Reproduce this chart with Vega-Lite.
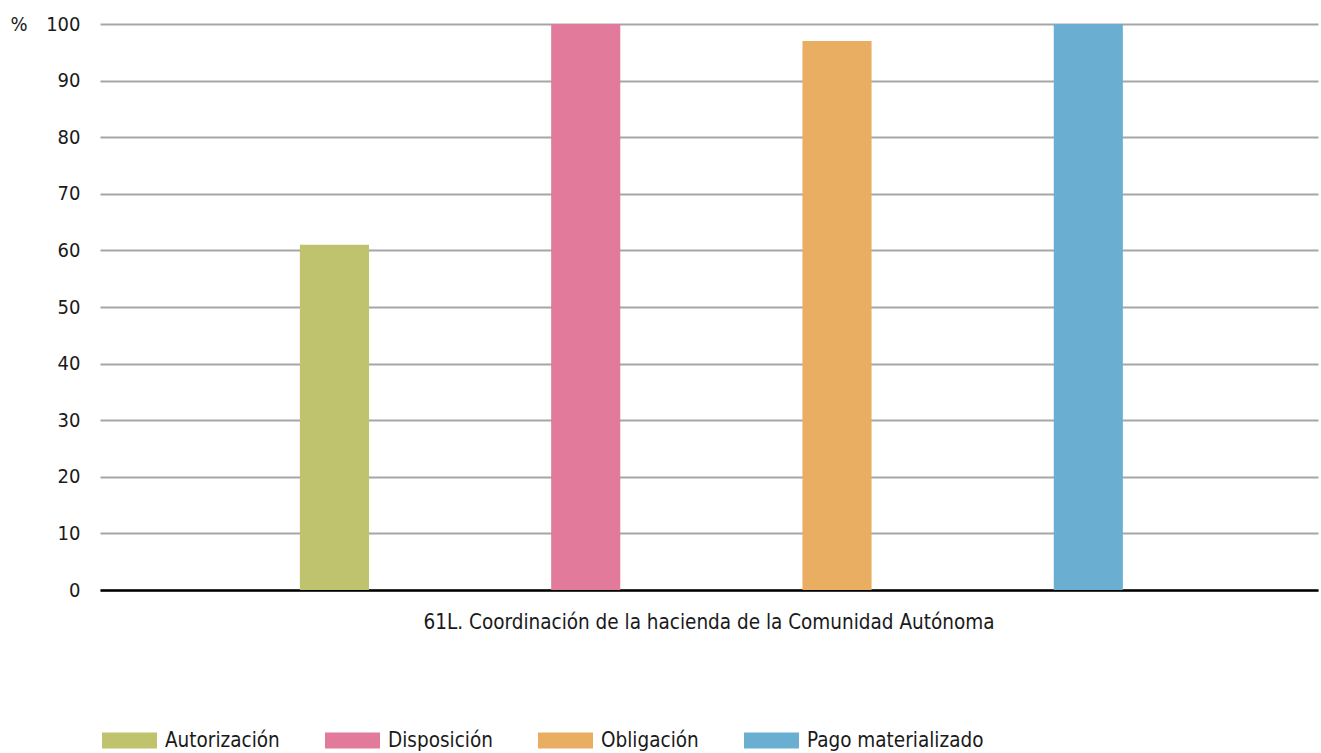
{
  "$schema": "https://vega.github.io/schema/vega-lite/v6.json",
  "width": 1218,
  "height": 566,
  "autosize": {"type": "none"},
  "padding": {"left": 100, "top": 24, "right": 3, "bottom": 163},
  "background": "white",
  "config": {
    "font": "DejaVu Sans Condensed, Roboto, sans-serif",
    "view": {"stroke": null}
  },
  "data": {
    "values": [
      {"programa": "61L. Coordinación de la hacienda de la Comunidad Autónoma", "fase": "Autorización", "valor": 61},
      {"programa": "61L. Coordinación de la hacienda de la Comunidad Autónoma", "fase": "Disposición", "valor": 100},
      {"programa": "61L. Coordinación de la hacienda de la Comunidad Autónoma", "fase": "Obligación", "valor": 97},
      {"programa": "61L. Coordinación de la hacienda de la Comunidad Autónoma", "fase": "Pago materializado", "valor": 100}
    ]
  },
  "mark": {"type": "bar"},
  "encoding": {
    "x": {
      "field": "programa",
      "type": "nominal",
      "scale": {"paddingInner": 0, "paddingOuter": 0},
      "axis": {
        "title": null,
        "labelAngle": 0,
        "labelFontSize": 20.5,
        "labelColor": "#1a1a1a",
        "labelPadding": 22,
        "labelLimit": 0,
        "ticks": false,
        "domainColor": "#000000",
        "domainWidth": 2.5
      }
    },
    "xOffset": {
      "field": "fase",
      "type": "nominal",
      "sort": ["Autorización", "Disposición", "Obligación", "Pago materializado"],
      "scale": {"paddingInner": 0.725, "paddingOuter": 0.786, "align": 0.506}
    },
    "y": {
      "field": "valor",
      "type": "quantitative",
      "scale": {"domain": [0, 100], "nice": false},
      "axis": {
        "title": "%",
        "titleAngle": 0,
        "titleFontSize": 20,
        "titleFontWeight": "normal",
        "titleColor": "#1a1a1a",
        "titleAnchor": "end",
        "titleAlign": "left",
        "titleBaseline": "middle",
        "titleX": -90,
        "titleY": 0,
        "values": [0, 10, 20, 30, 40, 50, 60, 70, 80, 90, 100],
        "labelFontSize": 20,
        "labelColor": "#1a1a1a",
        "labelPadding": 20,
        "ticks": false,
        "domain": false,
        "gridColor": "#a6a6a6",
        "gridWidth": 2
      }
    },
    "color": {
      "field": "fase",
      "type": "nominal",
      "sort": ["Autorización", "Disposición", "Obligación", "Pago materializado"],
      "scale": {
        "domain": ["Autorización", "Disposición", "Obligación", "Pago materializado"],
        "range": ["#bfc36d", "#e17a9b", "#e9ae62", "#6aafd2"]
      },
      "legend": {
        "title": null,
        "orient": "none",
        "legendX": 2,
        "legendY": 689,
        "direction": "horizontal",
        "columns": 4,
        "columnPadding": 45,
        "symbolType": "M-1,-0.29H1V0.29H-1Z",
        "symbolSize": 3025,
        "symbolStrokeWidth": 0,
        "symbolOpacity": 1,
        "labelFontSize": 20.5,
        "labelColor": "#1a1a1a",
        "labelOffset": 8,
        "labelLimit": 0
      }
    }
  }
}
